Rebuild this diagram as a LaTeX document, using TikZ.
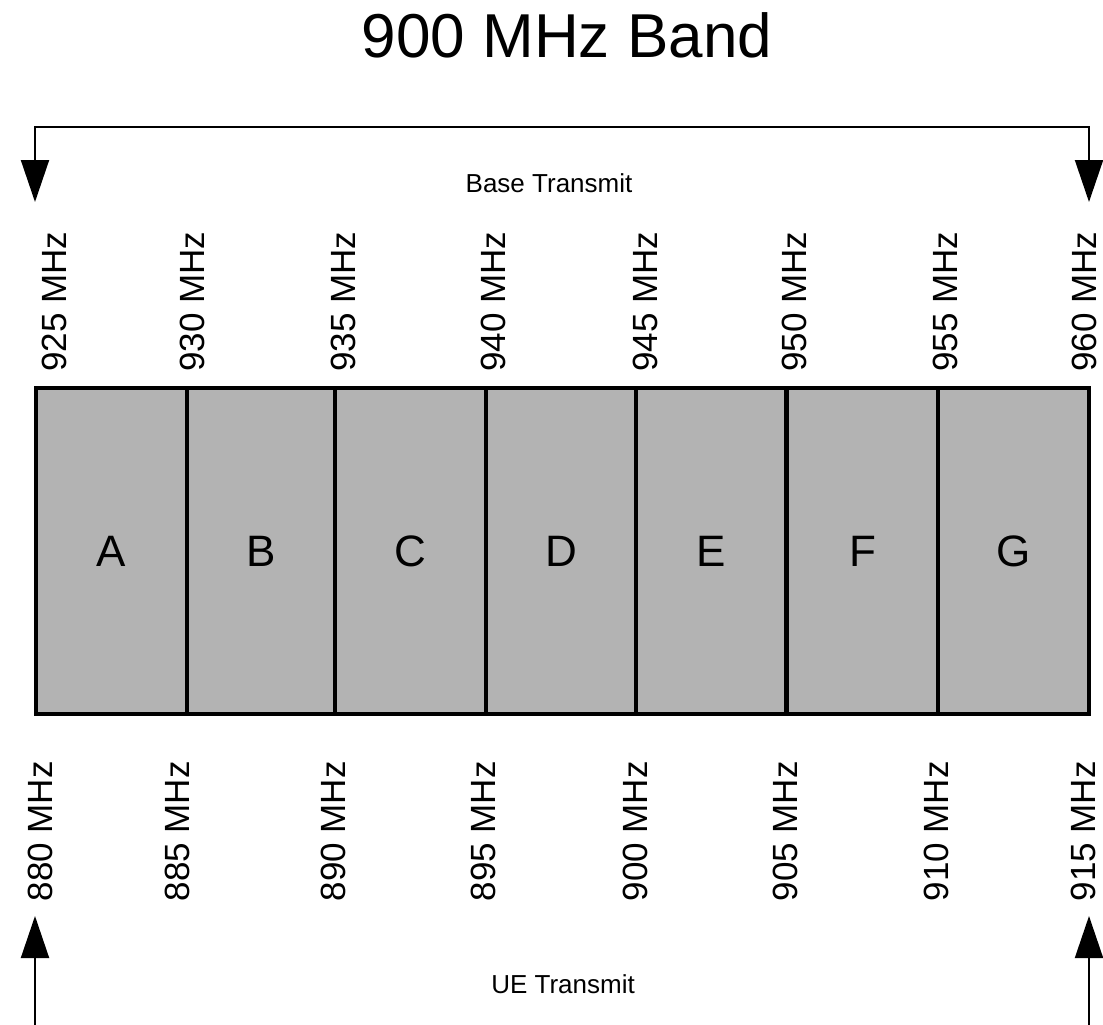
\documentclass[tikz,border=0pt]{standalone}
\usepackage{fontspec}
\setmainfont{Liberation Sans}
\usetikzlibrary{arrows.meta}
\definecolor{bandgray}{RGB}{179,179,179}
\begin{document}
\begin{tikzpicture}[x=1pt,y=-1pt,
  bandbox/.style={draw=black, line width=4pt, fill=bandgray, rectangle, inner sep=0pt,
     minimum height=326pt, font=\fontsize{44}{50}\selectfont},
  freqlbl/.style={rotate=90, anchor=base west, inner sep=0pt, font=\fontsize{35}{40}\selectfont},
  txlbl/.style={anchor=base, inner sep=0pt, font=\fontsize{26}{30}\selectfont},
  arrowline/.style={line width=2pt, draw=black},
  headtip/.tip={Triangle[length=42pt,width=28pt]}
]
\useasboundingbox (0,0) rectangle (1103,1025);
\fill[white] (0,0) rectangle (1103,1025);

% title
\node[anchor=base, inner sep=0pt, font=\fontsize{62}{70}\selectfont] (title) at (567,58) {900 MHz Band};

% band boxes
\node[bandbox, minimum width=151pt] (A) at (111.5,551) {A};
\node[bandbox, minimum width=148pt] (B) at (261,551) {B};
\node[bandbox, minimum width=151pt] (C) at (410.5,551) {C};
\node[bandbox, minimum width=150pt] (D) at (561,551) {D};
\node[bandbox, minimum width=150pt] (E) at (711,551) {E};
\node[bandbox, minimum width=151pt] (F) at (862.5,551) {F};
\node[bandbox, minimum width=151pt] (G) at (1013.5,551) {G};

% top frequency labels
\node[freqlbl] (t925) at (66.5,372) {925 MHz};
\node[freqlbl] (t930) at (204.5,372) {930 MHz};
\node[freqlbl] (t935) at (355.5,372) {935 MHz};
\node[freqlbl] (t940) at (505.5,372) {940 MHz};
\node[freqlbl] (t945) at (657.5,372) {945 MHz};
\node[freqlbl] (t950) at (806.5,372) {950 MHz};
\node[freqlbl] (t955) at (957.5,372) {955 MHz};
\node[freqlbl] (t960) at (1096.5,372) {960 MHz};

% bottom frequency labels
\node[freqlbl] (b880) at (52.5,901.5) {880 MHz};
\node[freqlbl] (b885) at (189.5,901.5) {885 MHz};
\node[freqlbl] (b890) at (345.5,901.5) {890 MHz};
\node[freqlbl] (b895) at (495.5,901.5) {895 MHz};
\node[freqlbl] (b900) at (647.5,901.5) {900 MHz};
\node[freqlbl] (b905) at (797.5,901.5) {905 MHz};
\node[freqlbl] (b910) at (948.5,901.5) {910 MHz};
\node[freqlbl] (b915) at (1095.5,901.5) {915 MHz};

% transmit labels
\node[txlbl] (base) at (549,192) {Base Transmit};
\node[txlbl] (ue) at (563,993) {UE Transmit};

% top arrow
\coordinate (tl) at (35,202);
\coordinate (tr) at (1089,202);
\coordinate (topmid) at (562,127);
\draw[arrowline, {headtip}-{headtip}] (tl) |- (topmid) -| (tr);

% bottom arrows
\coordinate (bl) at (35,916);
\coordinate (blfoot) at (35,1030);
\coordinate (br) at (1089,916);
\coordinate (brfoot) at (1089,1030);
\draw[arrowline, -{headtip}] (blfoot) -- (bl);
\draw[arrowline, -{headtip}] (brfoot) -- (br);
\end{tikzpicture}
\end{document}
